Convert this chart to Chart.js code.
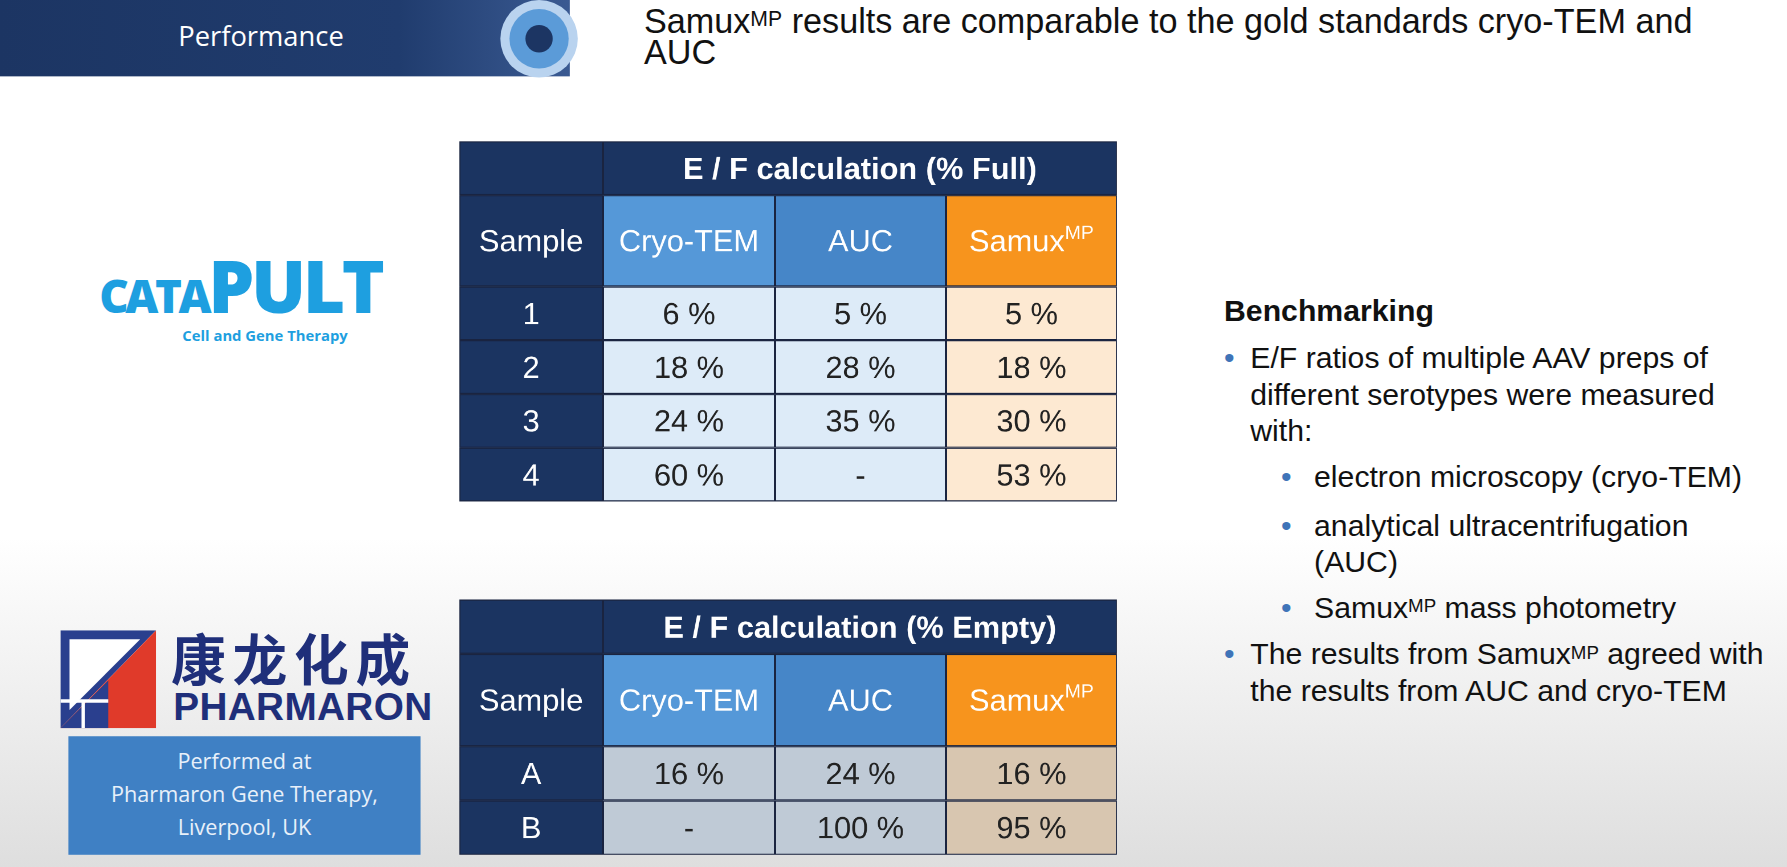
<!DOCTYPE html>
<html><head><meta charset="utf-8">
<script src="https://cdn.jsdelivr.net/npm/chart.js@4.4.0/dist/chart.umd.min.js"></script>
<style>
html,body{margin:0;padding:0;width:1787px;height:867px;overflow:hidden;font-family:"Liberation Sans",Arial,sans-serif}
#stage{position:absolute;left:0;top:0;width:1568px;height:761px;transform:scale(1.1397);transform-origin:0 0;
background:linear-gradient(to bottom,#ffffff 0%,#ffffff 62%,#dedede 100%)}
.abs{position:absolute}
sup{font-size:62%;vertical-align:top;position:relative;top:-2px}
</style></head><body>
<div id="stage">
 <div class="abs" style="left:0;top:0;width:500px;height:67px;background:linear-gradient(to right,#1c3563,#203c6e 70%,#3a5a92);"></div>
 <div class="abs" style="left:0;top:14px;width:458px;text-align:center;color:#fff;font-family:'Open Sans';font-size:24px">Performance</div>
 <div class="abs" style="left:439px;top:0;width:68px;height:68px;border-radius:50%;background:#b9d3ef"></div>
 <div class="abs" style="left:447px;top:8px;width:52px;height:52px;border-radius:50%;background:#5b9bd8"></div>
 <div class="abs" style="left:461px;top:22px;width:24px;height:24px;border-radius:50%;background:#1c3563"></div>
 <div class="abs" style="left:565px;top:5px;width:960px;font-size:30px;line-height:27px;color:#111">Samux<sup>MP</sup> results are comparable to the gold standards cryo-TEM and AUC</div>

 <div class="abs" style="left:87px;top:218px;font-family:'Open Sans';font-weight:800;color:#1e9fe0;font-size:64px;letter-spacing:-3px;line-height:66px"><span style="font-size:40px">CATA</span>PULT</div>
 <div class="abs" style="left:160px;top:285px;font-family:'Open Sans';font-weight:700;color:#1e9fe0;font-size:13px">Cell and Gene Therapy</div>

 <svg class="abs" style="left:53px;top:553px" width="84" height="86" viewBox="0 0 84 86">
  <polygon points="0,0 84,0 0,86" fill="#2a3f8e"/>
  <polygon points="84,0 84,86 0,86" fill="#e03a2a"/>
  <polygon points="8,8 70,8 8,70" fill="#fff"/>
  <polygon points="0,86 42,44 42,86" fill="#2a3f8e"/>
  <line x1="0" y1="62" x2="42" y2="62" stroke="#fff" stroke-width="3"/>
  <line x1="20" y1="62" x2="20" y2="86" stroke="#fff" stroke-width="3"/>
 </svg>
 <div class="abs" style="left:150px;top:548px;font-family:'Noto Sans CJK SC';font-weight:700;color:#1f2f7a;font-size:48px;letter-spacing:6px;line-height:56px">康龙化成</div>
 <div class="abs" style="left:152px;top:600px;font-family:'Liberation Sans';font-weight:700;color:#1f2f7a;font-size:34px;line-height:40px;letter-spacing:0.3px">PHARMARON</div>
 <div class="abs" style="left:60px;top:646px;width:309px;height:104px;background:#3f80c4;color:#e8f0fa;font-family:'Open Sans';font-size:19px;line-height:29px;text-align:center;padding-top:8px;box-sizing:border-box">Performed at<br>Pharmaron Gene Therapy,<br>Liverpool, UK</div>

 <div class="abs" style="left:1074px;top:257px;width:490px;font-size:26.5px;line-height:32px;color:#111">
  <div style="font-weight:700;margin-bottom:9px">Benchmarking</div>
  <div style="position:relative;padding-left:23px;padding-right:40px"><span style="position:absolute;left:0;color:#3f74b8">•</span>E/F ratios of multiple AAV preps of different serotypes were measured with:</div>
  <div style="position:relative;padding-left:79px;margin-top:8px"><span style="position:absolute;left:50px;color:#3f74b8">•</span>electron microscopy (cryo-TEM)</div>
  <div style="position:relative;padding-left:79px;margin-top:11px;padding-right:40px"><span style="position:absolute;left:50px;color:#3f74b8">•</span>analytical ultracentrifugation (AUC)</div>
  <div style="position:relative;padding-left:79px;margin-top:8px"><span style="position:absolute;left:50px;color:#3f74b8">•</span>Samux<sup>MP</sup> mass photometry</div>
  <div style="position:relative;padding-left:23px;margin-top:9px"><span style="position:absolute;left:0;color:#3f74b8">•</span>The results from Samux<sup>MP</sup> agreed with the results from AUC and cryo-TEM</div>
 </div>

 <div class="abs" style="left:403px;top:124px;width:577px;height:316px"><canvas id="t1"></canvas></div>
 <div class="abs" style="left:403px;top:526px;width:577px;height:224px"><canvas id="t2"></canvas></div>
</div>
<script>
const columns = ["Sample","Cryo-TEM","AUC","Samux^MP"];
const title1 = "E / F calculation (% Full)";
const samples1 = ["1","2","3","4"];
const cryo1 = ["6 %","18 %","24 %","60 %"];
const auc1 = ["5 %","28 %","35 %","-"];
const samux1 = ["5 %","18 %","30 %","53 %"];
const title2 = "E / F calculation (% Empty)";
const samplesB = ["A","B"];
const cryo2 = ["16 %","-"];
const auc2 = ["24 %","100 %"];
const samux2 = ["16 %","95 %"];

function drawText(ctx, txt, x, y, size, color, bold){
  ctx.fillStyle=color; ctx.textBaseline='middle';
  const f = (bold?'bold ':'')+size+'px "Liberation Sans", Arial, sans-serif';
  const fs = (bold?'bold ':'')+Math.round(size*0.62)+'px "Liberation Sans", Arial';
  if(txt.includes('^')){
    const [a,b]=txt.split('^');
    ctx.font=f; const wa=ctx.measureText(a).width;
    ctx.font=fs; const wb=ctx.measureText(b).width;
    const x0=x-(wa+wb)/2;
    ctx.textAlign='left'; ctx.font=f; ctx.fillText(a,x0,y);
    ctx.font=fs; ctx.fillText(b,x0+wa,y-size*0.32);
  } else { ctx.font=f; ctx.textAlign='center'; ctx.fillText(txt,x,y); }
}

function makeTable(id, title, samples, cryo, auc, samux, bodyColors){
  const cx=[0,126,277,427,577];
  const bounds=[0,1,2.7]; samples.forEach((s,i)=>bounds.push(2.7+i+1));
  const total=bounds[bounds.length-1];
  const S=27;
  const rows=[];
  rows.push({r:0,cells:[{c0:0,c1:1,fill:'#1b3461',txt:''},{c0:1,c1:4,fill:'#1b3461',txt:title,bold:true,color:'#fff',size:S}]});
  rows.push({r:1,cells:[{c0:0,c1:1,fill:'#1b3461',txt:columns[0],color:'#fff',size:S},
     {c0:1,c1:2,fill:'#5598d8',txt:columns[1],color:'#fff',size:S},
     {c0:2,c1:3,fill:'#4686c8',txt:columns[2],color:'#fff',size:S},
     {c0:3,c1:4,fill:'#f7941d',txt:columns[3],color:'#fff',size:S}]});
  samples.forEach((s,i)=>rows.push({r:2+i,cells:[
     {c0:0,c1:1,fill:'#1b3461',txt:s,color:'#fff',size:S},
     {c0:1,c1:2,fill:bodyColors[0],txt:cryo[i],color:'#222',size:S},
     {c0:2,c1:3,fill:bodyColors[0],txt:auc[i],color:'#222',size:S},
     {c0:3,c1:4,fill:bodyColors[1],txt:samux[i],color:'#222',size:S}]}));
  const cells=[];
  rows.forEach(row=>row.cells.forEach(c=>cells.push({...c,x0:cx[c.c0],x1:cx[c.c1],y0:bounds[row.r],y1:bounds[row.r+1]})));
  const plugin={id:'cells',afterDatasetsDraw(chart){
    const {ctx,scales:{x,y}}=chart;
    cells.forEach(c=>{
      const px0=x.getPixelForValue(c.x0),px1=x.getPixelForValue(c.x1);
      const py0=y.getPixelForValue(c.y0),py1=y.getPixelForValue(c.y1);
      ctx.fillStyle=c.fill; ctx.fillRect(px0,py0,px1-px0,py1-py0);
      ctx.strokeStyle='#1a2440'; ctx.lineWidth=1; ctx.strokeRect(px0+0.5,py0+0.5,px1-px0-1,py1-py0-1);
      if(c.txt) drawText(ctx,c.txt,(px0+px1)/2,(py0+py1)/2+2,c.size,c.color,c.bold);
    });
  }};
  new Chart(document.getElementById(id),{type:'scatter',
    data:{datasets:[{data:cells.map(c=>({x:(c.x0+c.x1)/2,y:(c.y0+c.y1)/2})),pointRadius:0}]},
    options:{responsive:true,maintainAspectRatio:false,animation:false,devicePixelRatio:2,
      layout:{padding:0},plugins:{legend:{display:false},tooltip:{enabled:false}},
      scales:{x:{type:'linear',min:0,max:577,display:false},y:{type:'linear',min:0,max:total,reverse:true,display:false}}},
    plugins:[plugin]});
}
makeTable('t1',title1,samples1,cryo1,auc1,samux1,['#ddebf8','#fde9d2']);
makeTable('t2',title2,samplesB,cryo2,auc2,samux2,['#bfcad6','#d8c6b0']);
</script>
</body></html>
